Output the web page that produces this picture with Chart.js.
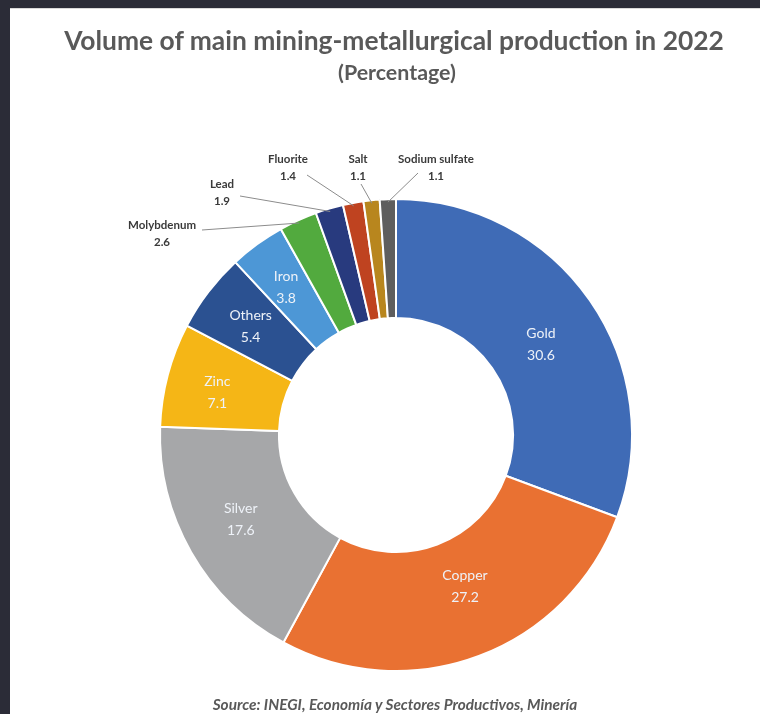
<!DOCTYPE html>
<html>
<head>
<meta charset="utf-8">
<script src="https://cdn.jsdelivr.net/npm/chart.js@4.4.1/dist/chart.umd.min.js"></script>
<style>
  html, body { margin: 0; padding: 0; width: 760px; height: 714px; overflow: hidden; background: #2b2c37; }
  #wrap { position: absolute; left: 10px; top: 8px; width: 750px; height: 706px; background: #ffffff; border-top: 1px solid #d9d9d9; box-sizing: border-box; }
  canvas { position: absolute; left: 0; top: 0; }
  .txt { position: absolute; white-space: nowrap; font-family: Lato, "Open Sans", sans-serif; color: #595959; transform: translate(-50%, -50%); }
  #title { font-weight: 700; font-size: 24px; }
  #subtitle { font-weight: 700; font-size: 16px; }
  #source { font-weight: 700; font-style: italic; font-size: 12px; }
</style>
</head>
<body>
<div id="wrap">
  <canvas id="c" width="750" height="706"></canvas>
  <span class="txt" id="title">Volume of main mining-metallurgical production in 2022</span>
  <span class="txt" id="subtitle">(Percentage)</span>
  <span class="txt" id="source">Source: INEGI, Economía y Sectores Productivos, Minería</span>
</div>
<script>
// ---- data ----
const categories = ["Gold", "Copper", "Silver", "Zinc", "Others", "Iron", "Molybdenum", "Lead", "Fluorite", "Salt", "Sodium sulfate"];
const shares = [30.6, 27.2, 17.6, 7.1, 5.4, 3.8, 2.6, 1.9, 1.4, 1.1, 1.1];
const valueLabels = ["30.6", "27.2", "17.6", "7.1", "5.4", "3.8", "2.6", "1.9", "1.4", "1.1", "1.1"];

// ---- styles ----
const colors = ["#3f6bb6", "#e97132", "#a6a7a9", "#f5b616", "#2b5191", "#4d97d6", "#52aa3e", "#283a7e", "#bf4320", "#b8861e", "#5e5e5e"];
// small nudges of the inside labels from the slice mid-point
const insideLayout = {
  "Gold":   { dx: 0,  dy: 10 },
  "Copper": { dx: 7,  dy: -14 },
  "Silver": { dx: -2, dy: -3 },
  "Zinc":   { dx: -8, dy: 3 },
  "Others": { dx: -5, dy: -1 },
  "Iron":   { dx: -6, dy: -5 }
};
// label placement for small slices, relative to the doughnut centre
const outsideLayout = {
  "Molybdenum":     { tx: -234, ty: -210, lx: -194, ly: -205 },
  "Lead":           { tx: -174, ty: -251, lx: -156, ly: -239 },
  "Fluorite":       { tx: -108, ty: -276, lx: -89,  ly: -260 },
  "Salt":           { tx: -38,  ty: -276, lx: -35,  ly: -251 },
  "Sodium sulfate": { tx: 40,   ty: -276, lx: 22,   ly: -262 }
};

// ---- html text placement ----
function place(id, cx, cy, targetW) {
  const el = document.getElementById(id);
  el.style.left = cx + 'px';
  el.style.top = cy + 'px';
  if (targetW) {
    const w = el.getBoundingClientRect().width;
    const fs = parseFloat(getComputedStyle(el).fontSize);
    el.style.fontSize = (fs * targetW / w) + 'px';
  }
}

const sliceLabels = {
  id: 'sliceLabels',
  afterDatasetsDraw(chart) {
    const ctx = chart.ctx;
    const meta = chart.getDatasetMeta(0);
    ctx.save();
    ctx.textAlign = 'center';
    ctx.textBaseline = 'middle';
    meta.data.forEach((arc, i) => {
      const p = arc.getProps(['x', 'y', 'startAngle', 'endAngle', 'innerRadius', 'outerRadius'], true);
      const mid = (p.startAngle + p.endAngle) / 2;
      const name = categories[i];
      if (insideLayout[name]) {
        const N = insideLayout[name];
        const r = (p.innerRadius + p.outerRadius) / 2;
        const x = p.x + Math.cos(mid) * r + N.dx;
        const y = p.y + Math.sin(mid) * r + N.dy;
        ctx.fillStyle = '#eef2f8';
        ctx.font = '14px Lato, "Open Sans", sans-serif';
        ctx.fillText(name, x, y - 11);
        ctx.fillText(valueLabels[i], x, y + 11);
      } else {
        const L = outsideLayout[name];
        const ex = p.x + Math.cos(mid) * (p.outerRadius - 3);
        const ey = p.y + Math.sin(mid) * (p.outerRadius - 3);
        ctx.strokeStyle = '#8c8c8c';
        ctx.lineWidth = 1;
        ctx.beginPath();
        ctx.moveTo(p.x + L.lx, p.y + L.ly);
        ctx.lineTo(ex, ey);
        ctx.stroke();
        ctx.fillStyle = '#3a3a3a';
        ctx.font = 'bold 11.5px Lato, "Open Sans", sans-serif';
        ctx.fillText(name, p.x + L.tx, p.y + L.ty);
        ctx.fillText(valueLabels[i], p.x + L.tx, p.y + L.ty + 17);
      }
    });
    ctx.restore();
  }
};

new Chart(document.getElementById('c'), {
  type: 'doughnut',
  data: {
    labels: categories,
    datasets: [{
      data: shares,
      backgroundColor: colors,
      borderColor: '#ffffff',
      borderWidth: 2,
      hoverOffset: 0
    }]
  },
  options: {
    responsive: false,
    animation: false,
    radius: 236,
    cutout: '49.6%',
    layout: { padding: { left: 150, right: 128, top: 190, bottom: 44 } },
    plugins: {
      legend: { display: false },
      tooltip: { enabled: false }
    }
  },
  plugins: [sliceLabels]
});

place('title', 384, 31, 660);
place('subtitle', 387, 63, 118);
place('source', 385, 695, 365);
</script>
</body>
</html>
